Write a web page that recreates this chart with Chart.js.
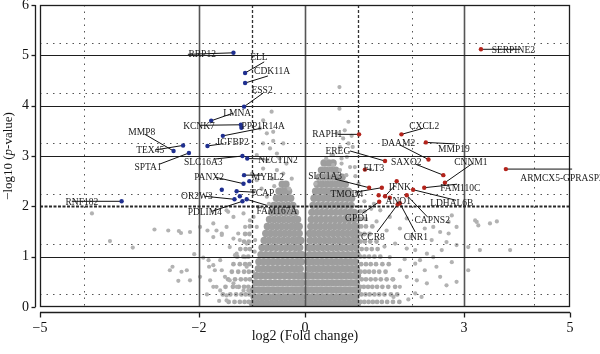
<!DOCTYPE html>
<html><head><meta charset="utf-8">
<script src="https://cdn.jsdelivr.net/npm/chart.js@4.4.1/dist/chart.umd.min.js"></script>
<style>html,body{margin:0;padding:0;background:#fff}#wrap{width:600px;height:354px;position:relative}</style>
</head><body><div id="wrap"><canvas id="c"></canvas></div>
<script>
// ---------- axis ticks ----------
const xTickValues = [-5, -2, 0, 3, 5];
const yTickValues = [0, 1, 2, 3, 4, 5, 6];

// ---------- labelled down-regulated genes (blue) ----------
const downGenes = ["RRP12","ELL","CDK11A","ESS2","LMNA","KCNK7","PPP1R14A","IGFBP2","MMP8","TEX45",
  "SPTA1","SLC16A3","NECTIN2","PANX2","MYBL2","OR2W3","TCAP","PDLIM4","FAM167A","RNF182"];
const downLog2FC = [-1.35,-1.13,-1.13,-1.15,-1.77,-1.21,-1.55,-1.84,-2.48,-2.30,
  -2.19,-1.18,-1.09,-1.16,-1.15,-1.33,-1.29,-1.18,-1.10,-3.46];
const downNegLogP = [5.05,4.65,4.45,3.98,3.70,3.62,3.40,3.20,3.10,3.21,
  3.06,3.00,2.95,2.45,2.62,2.14,2.30,2.10,2.14,2.10];
// other significant down genes without a label
const downExtraLog2FC = [-1.20,-1.57,-1.23,-1.05];
const downExtraNegLogP = [3.56,2.33,2.20,2.50];

// ---------- labelled up-regulated genes (red) ----------
const upGenes = ["SERPINE2","CXCL2","RAPH1","MMP19","DAAM2","EREG","SAXO2","CNNM1","FLT3","ARMCX5-GPRASP2",
  "SLC1A3","TMOD4","IFNK","FAM110C","LDHAL6B","GPD1","CAPNS2","CNR1","CCR8","ANO1"];
const upLog2FC = [3.32,1.82,1.02,2.28,2.33,1.51,2.61,2.64,1.13,3.79,
  1.21,1.45,1.51,2.25,2.04,1.40,1.92,1.79,1.75,1.60];
const upNegLogP = [5.12,3.43,3.43,3.27,2.93,2.90,2.62,2.47,2.73,2.74,
  2.37,2.37,2.20,2.37,2.33,2.09,2.22,2.06,2.04,2.17];
const upExtraLog2FC = [1.73,1.39];
const upExtraNegLogP = [2.50,2.22];

// ---------- label placement (data units): text centre, connector end ----------
const downLabelAt = [[-1.94,5.02],[-0.87,4.96],[-0.62,4.67],[-0.81,4.31],[-1.28,3.85],[-2.00,3.59],[-0.79,3.59],[-1.36,3.26],[-3.08,3.46],[-2.92,3.10],
  [-2.96,2.78],[-1.92,2.88],[-0.51,2.92],[-1.81,2.57],[-0.70,2.58],[-2.04,2.20],[-0.81,2.25],[-1.89,1.87],[-0.53,1.90],[-4.21,2.08]];
const downLabelTip = [[-2.21,5.02],[-0.77,4.87],[-0.70,4.59],[-0.79,4.25],[-1.36,3.85],[-1.98,3.61],[-0.83,3.55],[-1.57,3.24],[-3.02,3.43],[-2.83,3.12],
  [-2.74,2.84],[-1.70,2.94],[-0.76,2.94],[-1.70,2.58],[-0.81,2.62],[-1.89,2.20],[-0.94,2.28],[-1.76,1.90],[-0.72,2.02],[-4.40,2.10]];
const upLabelAt = [[3.93,5.10],[2.25,3.59],[0.42,3.43],[2.81,3.13],[1.76,3.25],[0.62,3.08],[1.91,2.88],[3.13,2.88],[1.30,2.75],[4.85,2.55],
  [0.38,2.60],[0.79,2.24],[1.79,2.37],[2.93,2.35],[2.77,2.06],[0.98,1.76],[2.40,1.71],[2.09,1.38],[1.28,1.39],[1.76,2.09]];
const upLabelTip = [[4.06,5.12],[2.23,3.55],[0.62,3.43],[2.83,3.24],[1.79,3.22],[0.85,3.10],[2.08,2.84],[3.17,2.86],[1.26,2.74],[5.04,2.74],
  [0.57,2.54],[0.94,2.28],[1.70,2.42],[2.87,2.44],[2.85,2.12],[1.08,1.86],[2.32,1.78],[2.08,1.49],[1.36,1.49],[1.60,2.17]];

// ---------- non-significant genes (grey) ----------
// dense core, rows: [ -log10 p, log2FC, log2FC, ... ]
const denseLeftRows = [
 [0.07,-0.99,-0.90,-0.81,-0.72,-0.63,-0.54,-0.45,-0.36,-0.27,-0.18,-0.10,-0.03],
 [0.20,-0.96,-0.86,-0.77,-0.68,-0.58,-0.49,-0.40,-0.31,-0.22,-0.14,-0.06],
 [0.34,-0.97,-0.88,-0.79,-0.70,-0.61,-0.52,-0.43,-0.34,-0.25,-0.17,-0.09,-0.04],
 [0.48,-0.93,-0.84,-0.75,-0.66,-0.57,-0.48,-0.39,-0.30,-0.21,-0.13,-0.06],
 [0.62,-0.92,-0.83,-0.74,-0.65,-0.56,-0.47,-0.38,-0.29,-0.20,-0.12,-0.05],
 [0.76,-0.88,-0.79,-0.70,-0.61,-0.52,-0.43,-0.34,-0.25,-0.17,-0.09],
 [0.90,-0.87,-0.78,-0.69,-0.60,-0.51,-0.42,-0.33,-0.24,-0.15,-0.07],
 [1.04,-0.83,-0.74,-0.65,-0.56,-0.47,-0.38,-0.29,-0.20,-0.12,-0.06],
 [1.18,-0.81,-0.72,-0.63,-0.54,-0.45,-0.36,-0.27,-0.18,-0.10],
 [1.32,-0.77,-0.68,-0.59,-0.50,-0.41,-0.32,-0.23,-0.15,-0.08],
 [1.46,-0.74,-0.65,-0.56,-0.47,-0.38,-0.29,-0.20,-0.11],
 [1.60,-0.71,-0.62,-0.53,-0.44,-0.35,-0.26,-0.18,-0.11],
 [1.74,-0.67,-0.58,-0.49,-0.40,-0.31,-0.22,-0.14],
 [1.88,-0.63,-0.54,-0.45,-0.36,-0.27,-0.18],
 [2.02,-0.59,-0.50,-0.41,-0.32,-0.23],
 [2.16,-0.54,-0.45,-0.36,-0.27],
 [2.30,-0.49,-0.40,-0.31],
 [2.44,-0.43,-0.36]
];
const denseRightRows = [
 [0.07,0.03,0.11,0.20,0.29,0.38,0.47,0.56,0.65,0.74,0.83,0.92,0.99],
 [0.20,0.06,0.15,0.24,0.33,0.42,0.51,0.60,0.69,0.78,0.87,0.96],
 [0.34,0.04,0.12,0.21,0.30,0.39,0.48,0.57,0.66,0.75,0.84,0.93,0.99],
 [0.48,0.07,0.16,0.25,0.34,0.43,0.52,0.61,0.70,0.79,0.88,0.97],
 [0.62,0.05,0.13,0.22,0.31,0.40,0.49,0.58,0.67,0.76,0.85,0.94,0.99],
 [0.76,0.08,0.17,0.26,0.35,0.44,0.53,0.62,0.71,0.80,0.89,0.97],
 [0.90,0.06,0.14,0.23,0.32,0.41,0.50,0.59,0.68,0.77,0.86,0.95],
 [1.04,0.09,0.18,0.27,0.36,0.45,0.54,0.63,0.72,0.81,0.90,0.98],
 [1.18,0.07,0.15,0.24,0.33,0.42,0.51,0.60,0.69,0.78,0.87,0.96],
 [1.32,0.10,0.19,0.28,0.37,0.46,0.55,0.64,0.73,0.82,0.91,0.98],
 [1.46,0.09,0.17,0.26,0.35,0.44,0.53,0.62,0.71,0.80,0.89,0.97],
 [1.60,0.11,0.20,0.29,0.38,0.47,0.56,0.65,0.74,0.83,0.92,0.98],
 [1.74,0.12,0.21,0.30,0.39,0.48,0.57,0.66,0.75,0.84,0.93],
 [1.88,0.13,0.22,0.31,0.40,0.49,0.58,0.67,0.76,0.85,0.93],
 [2.02,0.15,0.24,0.33,0.42,0.51,0.60,0.69,0.78,0.87],
 [2.16,0.17,0.26,0.35,0.44,0.53,0.62,0.71,0.80,0.88],
 [2.30,0.20,0.29,0.38,0.47,0.56,0.65,0.74,0.82],
 [2.44,0.23,0.32,0.41,0.50,0.59,0.68,0.76],
 [2.58,0.27,0.36,0.45,0.54,0.63,0.70],
 [2.72,0.31,0.40,0.49,0.58],
 [2.86,0.36,0.45,0.53]
];
// medium-density flanks just outside |log2FC| = 1
const flankRows = [
 [0.10,1.05,1.12,1.20,1.28,1.36,1.45,1.55,1.66,1.78,-1.06,-1.14,-1.23,-1.33,-1.44],
 [0.25,1.06,1.14,1.22,1.31,1.40,1.50,1.62,1.74,-1.05,-1.12,-1.20,-1.30,-1.41,-1.55],
 [0.40,1.04,1.11,1.19,1.27,1.36,1.46,1.57,1.70,-1.07,-1.15,-1.25,-1.36,-1.50],
 [0.55,1.07,1.15,1.24,1.33,1.43,1.54,1.66,-1.04,-1.12,-1.21,-1.32,-1.45],
 [0.70,1.05,1.13,1.21,1.30,1.40,1.52,-1.06,-1.15,-1.26,-1.38],
 [0.85,1.06,1.15,1.24,1.34,1.46,1.58,-1.05,-1.13,-1.23,-1.35],
 [1.00,1.04,1.12,1.21,1.31,1.42,-1.07,-1.16,-1.28],
 [1.15,1.07,1.16,1.26,1.37,-1.04,-1.12,-1.22],
 [1.30,1.05,1.13,1.23,1.35,-1.06,-1.15],
 [1.45,1.04,1.12,1.22,-1.05,-1.13],
 [1.60,1.06,1.15,1.27,-1.04],
 [1.75,1.05,1.14],
 [1.90,1.04,1.12]
];
// scattered individual genes [log2FC, -log10 p]
const sparseGenes = [
 [-4.02,1.86],[-3.68,1.31],[-3.25,1.18],[-2.84,1.54],[-2.58,1.52],[-2.38,1.51],[-2.34,1.47],[-1.98,1.59],[-2.09,1.05],[-2.50,0.80],
 [-2.33,0.70],[-2.17,0.53],[-2.39,0.52],[-1.84,1.52],[-1.73,1.39],[-1.57,1.46],[-1.92,0.98],[-1.81,0.80],[-1.70,0.73],[-1.60,0.93],
 [-1.98,0.60],[-1.73,0.40],[-1.60,0.33],[-1.48,0.23],[-1.35,0.47],[-1.42,1.19],[-1.29,1.06],[-1.23,1.33],[-1.35,1.79],[-1.48,1.92],
 [-1.13,1.59],[-1.10,0.80],[-1.07,0.33],[-2.17,1.49],[-1.73,1.66],[-1.67,1.52],[-1.57,1.43],[-1.45,1.89],[-1.48,1.59],[-1.35,1.36],
 [-1.26,1.46],[-1.32,1.03],[-1.13,0.99],[-1.82,0.93],[-1.73,0.83],[-1.57,0.73],[-1.51,0.60],[-1.42,0.53],[-1.29,0.40],[-1.16,0.33],
 [-2.55,0.73],[-2.23,0.73],[-1.79,0.53],[-1.67,0.40],[-1.48,0.13],[-1.10,1.26],[-1.04,1.72],[-1.16,1.86],[-1.62,0.12],[-1.85,0.25],
 [-0.63,3.88],[-0.79,3.71],[-0.85,3.55],[-0.72,3.45],[-0.60,3.48],[-0.41,3.25],[-0.79,3.25],[-0.66,3.15],[-0.53,3.05],[-0.91,3.02],
 [-0.72,2.92],[-0.79,2.75],[-0.53,2.72],[-0.35,2.85],[-0.41,2.65],[-0.91,2.52],[-0.82,2.35],[-0.72,2.19],[-0.88,1.99],[-0.97,1.79],
 [-0.91,1.59],[-0.94,1.33],[-0.62,2.55],[-0.58,2.40],[-0.25,2.55],[-0.68,2.05],[-0.97,2.30],[-1.00,2.65],[-0.60,3.30],[-0.48,2.95],
 [-0.30,2.35],[-0.95,1.10],[-0.98,0.70],
 [0.65,4.37],[0.65,3.94],[0.82,3.68],[0.75,3.51],[0.90,3.18],[0.66,3.18],[0.53,3.02],[0.79,2.98],[0.69,2.85],[0.53,2.82],
 [0.47,2.65],[0.85,2.78],[0.28,2.58],[0.60,3.45],[0.82,3.25],[0.50,3.02],[0.69,2.95],[0.94,2.78],[0.66,2.72],[1.01,2.45],
 [0.98,2.25],[0.72,3.35],[0.88,3.40],[0.40,2.95],[0.95,2.60],[0.20,2.45],[0.78,2.62],
 [2.71,1.69],[3.24,1.69],[3.49,1.66],[3.21,1.72],[3.62,1.70],[3.27,1.62],[2.77,1.82],[2.86,1.59],[2.71,1.46],[2.55,1.49],
 [2.42,1.59],[2.26,1.56],[2.39,1.33],[2.67,1.29],[2.86,1.23],[3.08,1.19],[3.30,1.13],[3.87,1.13],[2.58,1.13],[2.30,1.06],
 [2.08,1.13],[1.92,1.16],[2.17,0.93],[2.42,0.99],[2.77,0.89],[3.08,0.73],[2.48,0.80],[2.26,0.73],[2.08,0.86],[2.30,0.47],
 [2.67,0.43],[2.86,0.50],[2.11,0.53],[2.08,0.27],[1.92,0.60],[1.79,0.73],[1.79,0.40],[1.67,0.20],[1.60,0.99],[1.70,1.26],
 [1.79,1.56],[1.54,1.52],[1.60,1.79],[1.92,1.76],[1.42,1.92],[1.95,0.15],[2.20,0.20],[1.88,0.95],[2.00,1.40],[1.50,1.20],
 [1.65,0.55],[2.55,0.60],[1.35,1.70],[1.30,2.05],[1.12,2.10],[1.25,1.95]
];

// ---------- reference lines ----------
const solidH = [1, 3, 4, 5];
const thresholdP = 2;
const solidV = [-2, 0, 3];
const thresholdFC = [-1, 1];
const dottedH = [0.25, 1.25, 2.25, 3.25, 4.25, 5.25];
const dottedV = [-4.17, 2.01, 4.33];

const SERIF = "'Liberation Serif', 'DejaVu Serif', serif";

function rowsToPoints(rows) {
  const out = [];
  rows.forEach(r => { for (let i = 1; i < r.length; i++) out.push({x: r[i], y: r[0]}); });
  return out;
}
const pts = (xs, ys) => xs.map((v, i) => ({x: v, y: ys[i]}));

const frame = {
  id: 'frame',
  afterDatasetDraw(chart, args) {
    if (!chart.data.datasets[args.index].gridAfter) return;
    const {ctx, chartArea: a, scales: {x, y}} = chart;
    ctx.save();
    const hline = (v) => { const p = Math.round(y.getPixelForValue(v)) + 0.5; ctx.beginPath(); ctx.moveTo(a.left, p); ctx.lineTo(a.right, p); ctx.stroke(); };
    const vline = (v) => { const p = Math.round(x.getPixelForValue(v)) + 0.5; ctx.beginPath(); ctx.moveTo(p, a.top); ctx.lineTo(p, a.bottom); ctx.stroke(); };
    ctx.strokeStyle = '#555'; ctx.lineWidth = 1; ctx.setLineDash([1.5, 5]);
    dottedH.forEach(hline); dottedV.forEach(vline);
    ctx.setLineDash([]); ctx.strokeStyle = '#555'; ctx.lineWidth = 1.6;
    solidV.forEach(vline);
    ctx.strokeStyle = '#1e1e1e'; ctx.lineWidth = 1.2;
    solidH.forEach(hline);
    ctx.strokeStyle = '#333'; ctx.lineWidth = 1.3; ctx.setLineDash([3, 2]);
    thresholdFC.forEach(vline);
    ctx.strokeStyle = '#2a2a2a'; ctx.lineWidth = 2; ctx.setLineDash([3, 1.5]);
    hline(thresholdP);
    ctx.setLineDash([]); ctx.strokeStyle = '#1e1e1e'; ctx.lineWidth = 1.3;
    ctx.strokeRect(a.left + 0.5, a.top + 0.5, a.right - a.left - 1, a.bottom - a.top - 1);
    ctx.strokeStyle = '#111'; ctx.lineWidth = 1;
    const conn = (xs, ys, tips) => xs.forEach((v, i) => {
      ctx.beginPath();
      ctx.moveTo(x.getPixelForValue(v), y.getPixelForValue(ys[i]));
      ctx.lineTo(x.getPixelForValue(tips[i][0]), y.getPixelForValue(tips[i][1]));
      ctx.stroke();
    });
    conn(downLog2FC, downNegLogP, downLabelTip);
    conn(upLog2FC, upNegLogP, upLabelTip);
    ctx.restore();
  },
  afterDatasetsDraw(chart) {
    const {ctx, chartArea: a, scales: {x, y}} = chart;
    ctx.save();
    ctx.font = "9.5px " + SERIF; ctx.fillStyle = '#1a1a1a'; ctx.textAlign = 'center'; ctx.textBaseline = 'middle';
    downGenes.forEach((g, i) => ctx.fillText(g, x.getPixelForValue(downLabelAt[i][0]), y.getPixelForValue(downLabelAt[i][1])));
    upGenes.forEach((g, i) => ctx.fillText(g, x.getPixelForValue(upLabelAt[i][0]), y.getPixelForValue(upLabelAt[i][1])));
    ctx.strokeStyle = '#1e1e1e'; ctx.lineWidth = 1.3;
    const ay = a.bottom + 5.5;
    ctx.beginPath(); ctx.moveTo(a.left, ay); ctx.lineTo(a.right, ay); ctx.stroke();
    xTickValues.forEach(v => { const p = Math.round(x.getPixelForValue(v)) + 0.5; ctx.beginPath(); ctx.moveTo(p, ay); ctx.lineTo(p, ay + 5); ctx.stroke(); });
    const ax = a.left - 4.5;
    ctx.beginPath(); ctx.moveTo(ax, a.top); ctx.lineTo(ax, a.bottom); ctx.stroke();
    yTickValues.forEach(v => { const p = Math.round(y.getPixelForValue(v)) + 0.5; ctx.beginPath(); ctx.moveTo(ax, p); ctx.lineTo(ax - 4, p); ctx.stroke(); });
    const parts = [["\u2212log10 (", "13px " + SERIF], ["p", "italic 13px " + SERIF], ["-value)", "13px " + SERIF]];
    let total = 0;
    parts.forEach(p => { ctx.font = p[1]; total += ctx.measureText(p[0]).width; });
    ctx.translate(9, (a.top + a.bottom) / 2);
    ctx.rotate(-Math.PI / 2);
    ctx.fillStyle = '#111'; ctx.textAlign = 'left'; ctx.textBaseline = 'middle';
    let cx = -total / 2;
    parts.forEach(p => { ctx.font = p[1]; ctx.fillText(p[0], cx, 0); cx += ctx.measureText(p[0]).width; });
    ctx.restore();
  }
};

const minus = v => (v < 0 ? '\u2212' + Math.abs(v) : String(v));
const noPad = s => { s.paddingTop = 0; s.paddingBottom = 0; s.paddingLeft = 0; s.paddingRight = 0; };

new Chart(document.getElementById('c'), {
  type: 'scatter',
  data: {
    datasets: [
      {label: 'Down', data: pts(downLog2FC, downNegLogP).concat(pts(downExtraLog2FC, downExtraNegLogP)),
       pointRadius: 2.2, pointBackgroundColor: '#1f2f8f', pointBorderWidth: 0, order: 0},
      {label: 'Up', data: pts(upLog2FC, upNegLogP).concat(pts(upExtraLog2FC, upExtraNegLogP)),
       pointRadius: 2.2, pointBackgroundColor: '#b3241c', pointBorderWidth: 0, order: 1},
      {label: 'NS dense', data: rowsToPoints(denseLeftRows).concat(rowsToPoints(denseRightRows)),
       pointRadius: 3.7, pointBackgroundColor: '#9e9e9e', pointBorderWidth: 0, order: 7},
      {label: 'NS flank', data: rowsToPoints(flankRows),
       pointRadius: 2.4, pointBackgroundColor: '#ababab', pointBorderWidth: 0, order: 6},
      {label: 'NS sparse', data: sparseGenes.map(p => ({x: p[0], y: p[1]})),
       pointRadius: 2.1, pointBackgroundColor: '#b2b2b2', pointBorderWidth: 0, order: 5, gridAfter: true}
    ]
  },
  options: {
    responsive: true, maintainAspectRatio: false, animation: false,
    layout: {padding: {top: 5, right: 30, bottom: 0, left: 0}},
    plugins: {legend: {display: false}, tooltip: {enabled: false}},
    scales: {
      x: {
        type: 'linear', min: -5, max: 5,
        afterBuildTicks: s => { s.ticks = xTickValues.map(v => ({value: v})); },
        afterFit: s => { s.height = 47; noPad(s); },
        grid: {display: false, drawTicks: false}, border: {display: false},
        ticks: {font: {family: SERIF, size: 14}, color: '#111', padding: 13, maxRotation: 0, autoSkip: false, callback: v => minus(v)},
        title: {display: true, text: 'log2 (Fold change)', font: {family: SERIF, size: 14}, color: '#111', padding: {top: 0, bottom: 9}}
      },
      y: {
        type: 'linear', min: 0, max: 6,
        afterBuildTicks: s => { s.ticks = yTickValues.map(v => ({value: v})); },
        afterFit: s => { s.width = 40; noPad(s); },
        grid: {display: false, drawTicks: false}, border: {display: false},
        ticks: {font: {family: SERIF, size: 14}, color: '#111', padding: 11, autoSkip: false, callback: v => minus(v)},
        title: {display: false}
      }
    }
  },
  plugins: [frame]
});
</script>
</body></html>
